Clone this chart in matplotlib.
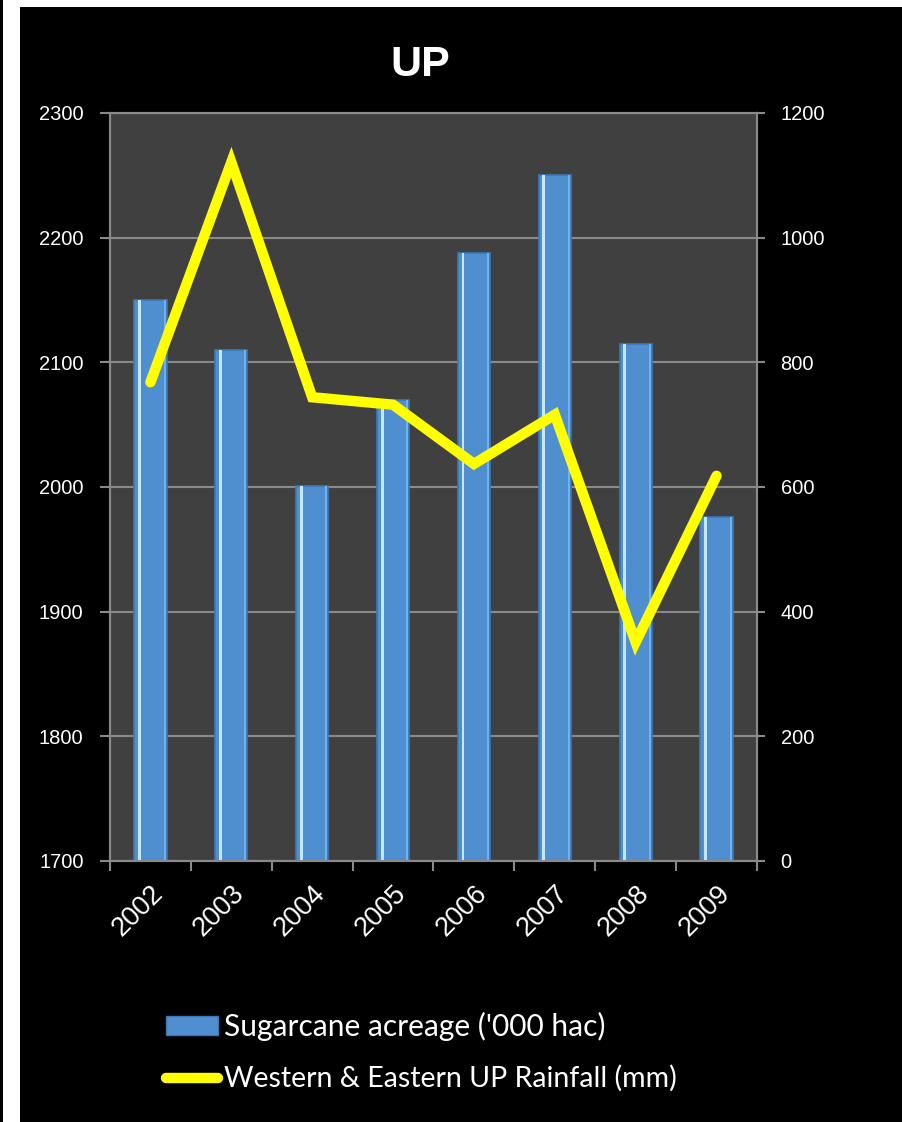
import matplotlib
matplotlib.use("Agg")
import matplotlib.pyplot as plt
import matplotlib.transforms as mtransforms
from matplotlib.patches import Rectangle
from matplotlib.lines import Line2D
import numpy as np

years = ["2002", "2003", "2004", "2005", "2006", "2007", "2008", "2009"]
acreage = [2150, 2110, 2001, 2070, 2188, 2250, 2115, 1976]
rainfall = [768, 1121, 744, 732, 637, 716, 351, 618]
left_ticks = [1700, 1800, 1900, 2000, 2100, 2200, 2300]
right_ticks = [0, 200, 400, 600, 800, 1000, 1200]
title = "UP"
bar_label = "Sugarcane acreage ('000 hac)"
line_label = "Western & Eastern UP Rainfall (mm)"

W, H = 903, 1122
fig = plt.figure(figsize=(W / 100, H / 100), dpi=100, facecolor="white")

# black background panel and thin left line
fig.patches.append(Rectangle((20 / W, 0), 1 - 20 / W, 1 - 7 / H, transform=fig.transFigure,
                             facecolor="black", edgecolor="none", zorder=-10))
fig.patches.append(Rectangle((0, 0), 3 / W, 1, transform=fig.transFigure,
                             facecolor="black", edgecolor="none", zorder=-10))

ax = fig.add_axes([110 / W, 1 - 861 / H, (757 - 110) / W, (861 - 113) / H])
ax.set_facecolor("#404040")
x = np.arange(len(years))
grid_c = "#8a8a8a"

ax.bar(x, acreage, width=0.4, color="#4F8FCF", edgecolor="#3A78B8", linewidth=1.2, zorder=2)
ax.bar(x - 0.135, acreage, width=0.035, color="#C4E8FF", edgecolor="none", zorder=3)
ax.bar(x + 0.175, acreage, width=0.025, color="#70B2F0", edgecolor="none", zorder=3)
ax.set_ylim(1700, 2300)
ax.set_xlim(-0.5, len(years) - 0.5)
ax.set_yticks(left_ticks)
ax.yaxis.grid(True, color=grid_c, linewidth=1.5, zorder=0)
ax.set_axisbelow(True)

ax.set_xticks(x)
ax.set_xticklabels(years, rotation=45, ha="right", rotation_mode="anchor",
                   fontsize=19.5, color="white", family="Liberation Sans")
offset = mtransforms.ScaledTranslation(-0.05, -0.03, fig.dpi_scale_trans)
for lbl in ax.get_xticklabels():
    lbl.set_transform(lbl.get_transform() + offset)
ax.set_xticks(np.arange(-0.5, len(years), 1), minor=True)
ax.tick_params(axis="x", which="major", length=0, pad=14)
ax.tick_params(axis="x", which="minor", length=7, width=1.5, color=grid_c, direction="out")
ax.tick_params(axis="y", length=7, width=1.5, color=grid_c, pad=12, labelsize=14.5,
               labelcolor="white")
for lbl in ax.get_yticklabels():
    lbl.set_family("Liberation Sans")
for s in ax.spines.values():
    s.set_color(grid_c)
    s.set_linewidth(1.5)

ax2 = ax.twinx()
ax2.plot(x, rainfall, color="#FFFF00", linewidth=7.5, solid_capstyle="round",
         solid_joinstyle="miter", zorder=5)
ax2.set_ylim(0, 1200)
ax2.set_yticks(right_ticks)
ax2.tick_params(axis="y", length=6, width=1.5, color=grid_c, pad=11, labelsize=14.5,
                labelcolor="white")
for lbl in ax2.get_yticklabels():
    lbl.set_family("Liberation Sans")
for s in ax2.spines.values():
    s.set_color(grid_c)
    s.set_linewidth(1.5)

fig.text(420 / W, 1 - 76 / H, title, ha="center", va="baseline", fontsize=31,
         fontweight="bold", color="white", family="Liberation Sans")

# legend
fig.patches.append(Rectangle((166 / W, 1 - 1035 / H), 52 / W, 19 / H, transform=fig.transFigure,
                             facecolor="#4F8FCF", edgecolor="#3A78B8", linewidth=1))
fig.lines.append(Line2D([166 / W, 218 / W], [1 - 1078 / H, 1 - 1078 / H], transform=fig.transFigure,
                        color="#FFFF00", linewidth=7.5, solid_capstyle="round"))
fig.text(224 / W, 1 - 1036 / H, bar_label, ha="left", va="baseline", fontsize=21.5,
         color="white", family="Lato")
fig.text(224 / W, 1 - 1087 / H, line_label, ha="left", va="baseline", fontsize=20.5,
         color="white", family="Lato")

fig.savefig("out.png", dpi=100, facecolor=fig.get_facecolor())
